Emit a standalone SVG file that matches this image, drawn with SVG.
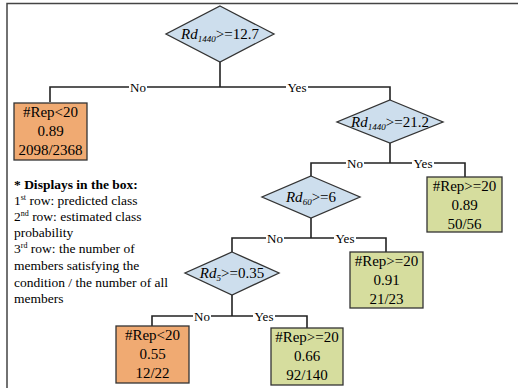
<svg xmlns="http://www.w3.org/2000/svg" width="518" height="388" viewBox="0 0 518 388">
<style>
.frame{fill:none;stroke:#444;stroke-width:1.5}
.dia{fill:#cddeed;stroke:#333;stroke-width:1.3}
.neg{fill:#f0aa72;stroke:#333;stroke-width:1.3}
.pos{fill:#d6dd9e;stroke:#333;stroke-width:1.3}
.ln{fill:none;stroke:#222;stroke-width:1.6}
.lbg{fill:#fff}
.t{font-family:"Liberation Serif",serif;font-size:15px;fill:#000;text-anchor:middle}
.dt{font-family:"Liberation Serif",serif;font-size:15px;fill:#000;text-anchor:middle}
.it{font-style:italic}
.sub{font-size:9px;font-style:italic}
.lab{font-family:"Liberation Serif",serif;font-size:13px;fill:#000;text-anchor:middle}
.leg{font-family:"Liberation Serif",serif;font-size:13.5px;fill:#000}
.sup{font-size:8px}
</style>
<path class="frame" d="M7,388 V3.5 H518"/>
<g id="connectors">
<path class="ln" d="M220,62 V87 M50,102 V87 H390 V100"/>
<path class="ln" d="M390,143 V163 M311,176 V163 H465 V177"/>
<path class="ln" d="M311,218 V238 M232,252 V238 H386 V252"/>
<path class="ln" d="M232,295 V316 M152,326 V316 H307 V328"/>
<rect class="lbg" x="129" y="80" width="18" height="14"/>
<text class="lab" x="138" y="91.5">No</text>
<rect class="lbg" x="286" y="80" width="22" height="14"/>
<text class="lab" x="297" y="91.5">Yes</text>
<rect class="lbg" x="346" y="156" width="18" height="14"/>
<text class="lab" x="355" y="167.5">No</text>
<rect class="lbg" x="412" y="156" width="22" height="14"/>
<text class="lab" x="423" y="167.5">Yes</text>
<rect class="lbg" x="266" y="231" width="18" height="14"/>
<text class="lab" x="275" y="242.5">No</text>
<rect class="lbg" x="334" y="231" width="22" height="14"/>
<text class="lab" x="345" y="242.5">Yes</text>
<rect class="lbg" x="193" y="309" width="18" height="14"/>
<text class="lab" x="202" y="320.5">No</text>
<rect class="lbg" x="253" y="309" width="22" height="14"/>
<text class="lab" x="264" y="320.5">Yes</text>
</g>
<g id="n1">
<polygon class="dia" points="220,6 274,34 220,62 166,34"/>
<text class="dt" x="220" y="39"><tspan class="it">Rd</tspan><tspan class="sub" dy="3">1440</tspan><tspan dy="-3">&gt;=12.7</tspan></text>
</g>
<g id="n2">
<rect class="neg" x="14" y="103" width="73" height="57"/>
<text class="t" x="50.5" y="117">#Rep&lt;20</text>
<text class="t" x="50.5" y="136">0.89</text>
<text class="t" x="50.5" y="155">2098/2368</text>
</g>
<g id="n3">
<polygon class="dia" points="390,100 443,122 390,143 337,122"/>
<text class="dt" x="390" y="127"><tspan class="it">Rd</tspan><tspan class="sub" dy="3">1440</tspan><tspan dy="-3">&gt;=21.2</tspan></text>
</g>
<g id="n4">
<rect class="pos" x="427" y="177" width="75" height="55"/>
<text class="t" x="464.5" y="191">#Rep&gt;=20</text>
<text class="t" x="464.5" y="210">0.89</text>
<text class="t" x="464.5" y="229">50/56</text>
</g>
<g id="n5">
<polygon class="dia" points="311,176 360,197 311,218 262,197"/>
<text class="dt" x="311" y="202"><tspan class="it">Rd</tspan><tspan class="sub" dy="3">60</tspan><tspan dy="-3">&gt;=6</tspan></text>
</g>
<g id="n6">
<rect class="pos" x="350" y="252" width="73" height="56"/>
<text class="t" x="386.5" y="266">#Rep&gt;=20</text>
<text class="t" x="386.5" y="285">0.91</text>
<text class="t" x="386.5" y="304">21/23</text>
</g>
<g id="n7">
<polygon class="dia" points="232,252 279,273 232,295 185,273"/>
<text class="dt" x="232" y="278"><tspan class="it">Rd</tspan><tspan class="sub" dy="3">5</tspan><tspan dy="-3">&gt;=0.35</tspan></text>
</g>
<g id="n8">
<rect class="neg" x="116" y="326" width="73" height="57"/>
<text class="t" x="152.5" y="340">#Rep&lt;20</text>
<text class="t" x="152.5" y="359">0.55</text>
<text class="t" x="152.5" y="378">12/22</text>
</g>
<g id="n9">
<rect class="pos" x="271" y="328" width="72" height="57"/>
<text class="t" x="307" y="342">#Rep&gt;=20</text>
<text class="t" x="307" y="361">0.66</text>
<text class="t" x="307" y="380">92/140</text>
</g>
<g id="legend">
<text class="leg" x="14" y="189" font-weight="bold">* Displays in the box:</text>
<text class="leg" x="14" y="205">1<tspan class="sup" dy="-5">st</tspan><tspan dy="5"> row: predicted class</tspan></text>
<text class="leg" x="14" y="221">2<tspan class="sup" dy="-5">nd</tspan><tspan dy="5"> row: estimated class</tspan></text>
<text class="leg" x="14" y="237">probability</text>
<text class="leg" x="14" y="253">3<tspan class="sup" dy="-5">rd</tspan><tspan dy="5"> row: the number of</tspan></text>
<text class="leg" x="14" y="270">members satisfying the</text>
<text class="leg" x="14" y="287">condition / the number of all</text>
<text class="leg" x="14" y="303">members</text>
</g>
</svg>
